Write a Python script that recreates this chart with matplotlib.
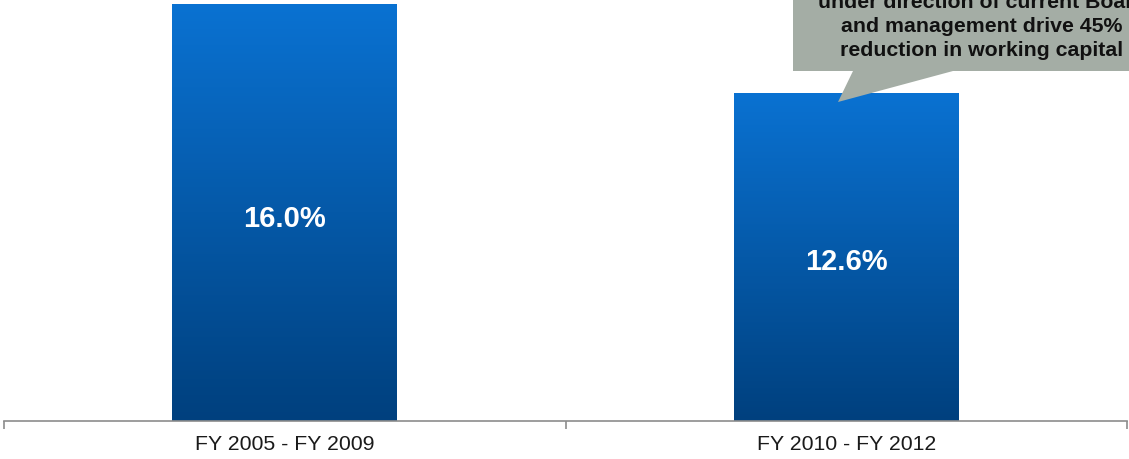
import matplotlib
matplotlib.use("Agg")
import matplotlib.pyplot as plt
import numpy as np
from matplotlib.colors import LinearSegmentedColormap
from matplotlib.patches import Polygon

categories = ["FY 2005 - FY 2009", "FY 2010 - FY 2012"]
values = [16.0, 12.6]
value_labels = ["16.0%", "12.6%"]
callout_lines = ["under direction of current Board", "and management drive 45%", "reduction in working capital"]

plt.rcParams['font.family'] = ['Liberation Sans', 'DejaVu Sans']

W, H = 1129, 459
fig = plt.figure(figsize=(W / 100, H / 100), dpi=100)
ax = fig.add_axes([4 / W, 38 / H, 1123 / W, 421 / H])

x = np.arange(len(categories))
bars = ax.bar(x, values, width=0.40, color="none", edgecolor="none", zorder=2)
cmap = LinearSegmentedColormap.from_list("g", ["#00407E", "#0A72D2"])
grad = np.linspace(0, 1, 256).reshape(-1, 1)
for b in bars:
    x0, y0 = b.get_x(), b.get_y()
    w, h = b.get_width(), b.get_height()
    im = ax.imshow(grad, cmap=cmap, origin="lower", aspect="auto",
                   extent=[x0, x0 + w, y0, y0 + h], zorder=2)
    im.set_clip_path(b)

label_y = [values[0] * 0.49, values[1] * 0.49]
for xi, v, lab in zip(x, values, value_labels):
    ax.text(xi, v * 0.485, lab, ha="center", va="center", color="white",
            fontsize=21, fontweight="bold", zorder=3)

ax.set_xlim(-0.5, 1.5)
ax.set_ylim(0, 16.15)
for s in ["top", "right", "left"]:
    ax.spines[s].set_visible(False)
ax.spines["bottom"].set_color("#8c8c8c")
ax.spines["bottom"].set_linewidth(1.2)
ax.set_yticks([])
ax.set_xticks([-0.5, 0.5, 1.5])
ax.set_xticklabels([])
ax.tick_params(axis="x", length=6, color="#8c8c8c", width=1.2)
ax.set_xticks(x, minor=True)
ax.set_xticklabels(categories, minor=True, fontsize=15.3, color="#1a1a1a")
ax.tick_params(axis="x", which="minor", length=0, pad=10)

# callout (figure pixel coords, y measured from top)
def fp(px, py):
    return (px / W, 1 - py / H)
pts = [(793, -20), (1150, -20), (1150, 71), (953, 71), (838, 102), (853, 71), (793, 71)]
poly = Polygon([fp(*p) for p in pts], closed=True, transform=fig.transFigure,
               facecolor="#A4ADA5", edgecolor="none", zorder=5)
fig.patches.append(poly)
for i, line in enumerate(callout_lines):
    cx, cy = fp(982, 3 + 24 * i)
    fig.text(cx, cy, line, ha="center", va="center", fontsize=15.3,
             fontweight="bold", color="#111111", zorder=6)

fig.savefig("out.png", dpi=100)
